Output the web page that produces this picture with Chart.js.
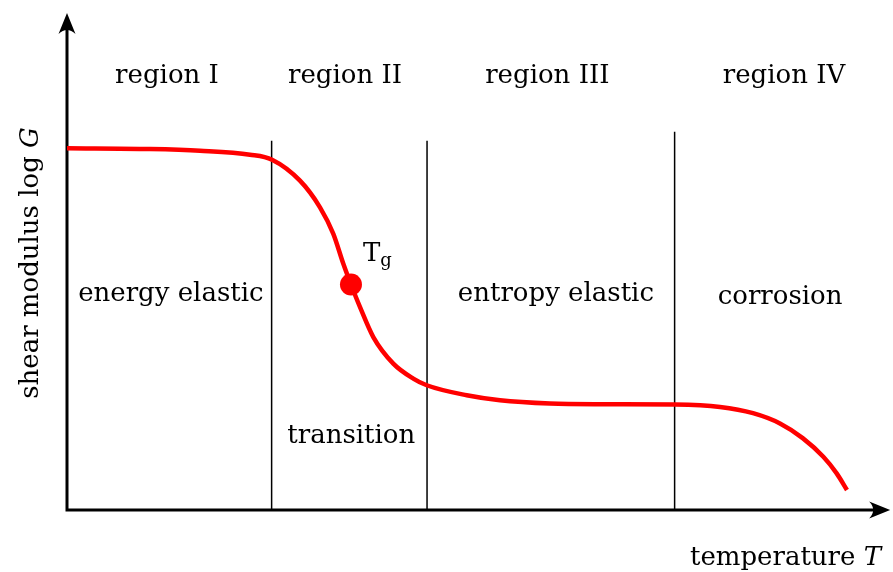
<!DOCTYPE html>
<html>
<head>
<meta charset="utf-8">
<script src="https://cdn.jsdelivr.net/npm/chart.js@4/dist/chart.umd.min.js"></script>
<style>
  html, body { margin: 0; padding: 0; background: #ffffff; }
  #wrap { width: 893px; height: 572px; }
</style>
</head>
<body>
<div id="wrap"><canvas id="c" width="893" height="572"></canvas></div>
<script>
// Temperature (arbitrary units, 0..100) and log G (arbitrary units, 0..100)
const temperature = [0, 10.63, 17.03, 23.43, 26.25, 29.83, 32.39, 34.10, 35.38, 36.36, 37.52, 39.22, 41.78, 44.34, 46.06, 51.18, 55.44, 61.84, 68.25, 77.85, 83.61, 87.84, 91.29, 94.2, 96.84, 98.55, 99.87];
const logG        = [72.5, 72.34, 72.0, 71.2, 70.2, 66.0, 60.66, 55.34, 49.34, 45.2, 40.66, 34.66, 29.34, 26.34, 25.0, 23.0, 22.0, 21.34, 21.2, 21.14, 20.66, 19.4, 17.34, 14.4, 10.66, 7.34, 4.0];

// Glass transition point
const tgPoint = { x: 36.36, y: 45.2 };

// Region boundaries (temperature) and the height each divider reaches
const boundaries = [26.2, 46.1, 77.8];
const boundaryTops = [74, 74, 75.8];

// Labels
const regionNames = ['region I', 'region II', 'region III', 'region IV'];
const regionDescriptions = ['energy elastic', 'transition', 'entropy elastic', 'corrosion'];

// Axis extents (arrow tips)
const xAxisEnd = 105.4;
const yAxisEnd = 99.6;

const curve = temperature.map((t, i) => ({ x: t, y: logG[i] }));

const dividerSets = boundaries.map((b, i) => ({
  type: 'line',
  data: [{ x: b, y: 0 }, { x: b, y: boundaryTops[i] }],
  borderColor: '#000000',
  borderWidth: 1.5,
  pointRadius: 0,
  tension: 0,
  order: 3
}));

const SERIF = '"DejaVu Serif", serif';

// where each text sits, in data coordinates
const textPlacement = [
  { text: regionNames[0], x: 12.8, y: 87 },
  { text: regionNames[1], x: 35.6, y: 87 },
  { text: regionNames[2], x: 61.5, y: 87 },
  { text: regionNames[3], x: 91.8, y: 87 },
  { text: regionDescriptions[0], x: 13.3, y: 43.2 },
  { text: regionDescriptions[1], x: 36.4, y: 14.8 },
  { text: regionDescriptions[2], x: 62.6, y: 43.2 },
  { text: regionDescriptions[3], x: 91.3, y: 42.6 }
];

function arrowHead(ctx, x, y, angle) {
  ctx.save();
  ctx.translate(x, y);
  ctx.rotate(angle);
  ctx.beginPath();
  ctx.moveTo(0, 0);
  ctx.lineTo(-21, -8.5);
  ctx.quadraticCurveTo(-13, 0, -21, 8.5);
  ctx.closePath();
  ctx.fillStyle = '#000';
  ctx.fill();
  ctx.restore();
}

const decorations = {
  id: 'decorations',
  beforeDatasetsDraw(chart) {
    const ctx = chart.ctx;
    const xs = chart.scales.x, ys = chart.scales.y;
    const x0 = xs.getPixelForValue(0), y0 = ys.getPixelForValue(0);
    const xEnd = xs.getPixelForValue(xAxisEnd), yEnd = ys.getPixelForValue(yAxisEnd);
    ctx.save();
    ctx.strokeStyle = '#000';
    ctx.lineWidth = 3;
    ctx.beginPath();
    ctx.moveTo(x0, y0 + 1.5);
    ctx.lineTo(x0, yEnd + 10);
    ctx.moveTo(x0 - 1.5, y0);
    ctx.lineTo(xEnd - 10, y0);
    ctx.stroke();
    arrowHead(ctx, x0, yEnd, -Math.PI / 2);
    arrowHead(ctx, xEnd, y0, 0);
    ctx.restore();
  },
  afterDatasetsDraw(chart) {
    const ctx = chart.ctx;
    const xs = chart.scales.x, ys = chart.scales.y;
    ctx.save();
    ctx.fillStyle = '#000';
    ctx.font = '26px ' + SERIF;
    ctx.textAlign = 'center';
    ctx.textBaseline = 'middle';
    textPlacement.forEach(p => {
      ctx.fillText(p.text, xs.getPixelForValue(p.x), ys.getPixelForValue(p.y));
    });

    // T_g label
    const tx = xs.getPixelForValue(tgPoint.x) + 12;
    const ty = ys.getPixelForValue(tgPoint.y) - 32;
    ctx.textAlign = 'left';
    ctx.textBaseline = 'alphabetic';
    ctx.font = '26px ' + SERIF;
    ctx.fillText('T', tx, ty + 9);
    const tw = ctx.measureText('T').width;
    ctx.font = '18px ' + SERIF;
    ctx.fillText('g', tx + tw, ty + 14);

    // x axis title
    ctx.textBaseline = 'alphabetic';
    ctx.textAlign = 'right';
    ctx.font = 'italic 26px ' + SERIF;
    const tItalic = ctx.measureText('T').width;
    const xr = 881;
    ctx.fillText('T', xr, 565);
    ctx.font = '26px ' + SERIF;
    ctx.fillText('temperature ', xr - tItalic, 565);

    // y axis title (rotated)
    ctx.save();
    ctx.translate(38, 263);
    ctx.rotate(-Math.PI / 2);
    ctx.textAlign = 'left';
    ctx.font = '26px ' + SERIF;
    const part1 = 'shear modulus log ';
    const w1 = ctx.measureText(part1).width;
    ctx.font = 'italic 26px ' + SERIF;
    const w2 = ctx.measureText('G').width;
    const start = -(w1 + w2) / 2;
    ctx.font = '26px ' + SERIF;
    ctx.fillText(part1, start, 0);
    ctx.font = 'italic 26px ' + SERIF;
    ctx.fillText('G', start + w1, 0);
    ctx.restore();

    ctx.restore();
  }
};

new Chart(document.getElementById('c'), {
  type: 'line',
  data: {
    datasets: [
      {
        data: curve,
        borderColor: '#ff0000',
        borderWidth: 4.5,
        pointRadius: 0,
        cubicInterpolationMode: 'monotone',
        fill: false,
        order: 2
      },
      {
        data: [tgPoint],
        showLine: false,
        pointRadius: 11,
        pointBackgroundColor: '#ff0000',
        pointBorderColor: '#ff0000',
        pointBorderWidth: 0,
        order: 1
      },
      ...dividerSets
    ]
  },
  options: {
    responsive: false,
    animation: false,
    events: [],
    layout: { padding: { left: 67, right: 45, top: 10, bottom: 62 } },
    scales: {
      x: { type: 'linear', min: 0, max: 100, display: false },
      y: { type: 'linear', min: 0, max: 100, display: false }
    },
    plugins: {
      legend: { display: false },
      tooltip: { enabled: false },
      title: { display: false }
    },
    elements: { line: { borderCapStyle: 'butt' } },
    clip: false
  },
  plugins: [decorations]
});
</script>
</body>
</html>
